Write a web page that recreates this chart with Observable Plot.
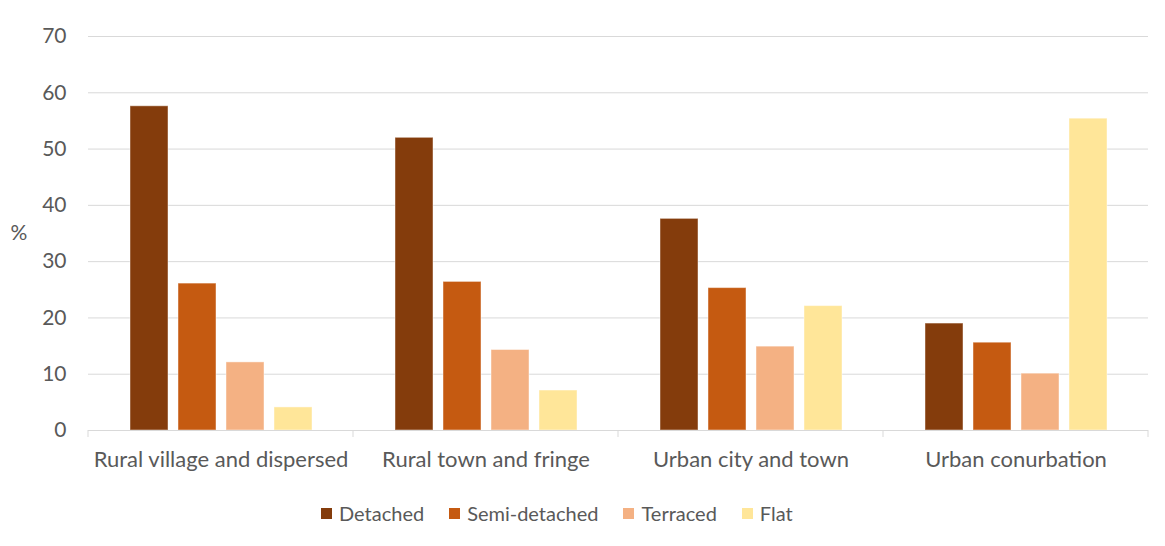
<!DOCTYPE html>
<html>
<head>
<meta charset="utf-8">
<script src="https://cdn.jsdelivr.net/npm/d3@7"></script>
<script src="https://cdn.jsdelivr.net/npm/@observablehq/plot@0.6"></script>
<style>
  body { margin: 0; background: #fff; font-family: Lato, sans-serif; }
  #wrap { width: 1165px; }
  #legend { display: flex; align-items: center; height: 30px; margin-top: 8px; padding-left: 321px; color: #595959; font-size: 20px; }
  .item { display: flex; align-items: center; margin-right: 25px; }
  .sw { width: 11px; height: 11px; margin-right: 7px; }
</style>
</head>
<body>
<div id="wrap"></div>
<script>
const categories = ["Rural village and dispersed", "Rural town and fringe", "Urban city and town", "Urban conurbation"];
const types = ["Detached", "Semi-detached", "Terraced", "Flat"];
const detached = [57.6, 52.0, 37.6, 19.0];
const semiDetached = [26.1, 26.4, 25.3, 15.6];
const terraced = [12.1, 14.3, 14.9, 10.1];
const flat = [4.1, 7.1, 22.1, 55.4];
const colors = ["#843C0C", "#C55A11", "#F4B183", "#FFE699"];
const yTicks = [0, 10, 20, 30, 40, 50, 60, 70];
const yLabel = "%";

const series = [detached, semiDetached, terraced, flat];
const data = [];
categories.forEach((c, i) => types.forEach((t, j) => data.push({category: c, type: t, value: series[j][i]})));

const chart = Plot.plot({
  width: 1165,
  height: 490,
  marginLeft: 88,
  marginRight: 17,
  marginTop: 36,
  marginBottom: 60,
  style: {fontFamily: "Lato, sans-serif", fontSize: "20px", color: "#595959", background: "#fff"},
  fx: {domain: categories, padding: 0, label: null},
  x: {domain: types, paddingInner: 0.21, paddingOuter: 0.85, axis: null},
  y: {domain: [0, 70], label: null},
  color: {domain: types, range: colors},
  marks: [
    Plot.gridY(yTicks.filter(d => d > 0), {stroke: "#d9d9d9", strokeOpacity: 1, strokeWidth: 1}),
    Plot.barY(data, {fx: "category", x: "type", y: "value", fill: "type", stroke: "#ffffff", strokeOpacity: 0.45, strokeWidth: 1}),
    Plot.ruleY([0], {stroke: "#d9d9d9", strokeWidth: 1}),
    Plot.axisY(yTicks, {tickSize: 0, tickPadding: 22, fontSize: 21, fill: "#595959", label: null}),
    Plot.axisFx({anchor: "bottom", tickSize: 0, tickPadding: 21, fontSize: 22, fill: "#595959", label: null})
  ]
});

const svg = d3.select(chart);
const fx = chart.scale("fx");
const y = chart.scale("y");
const y0 = y.apply(0);
const bounds = categories.map(c => fx.apply(c));
bounds.push(fx.apply(categories[categories.length - 1]) + fx.bandwidth);
svg.append("g").selectAll("line").data(bounds).join("line")
  .attr("x1", d => d).attr("x2", d => d)
  .attr("y1", y0).attr("y2", y0 + 7)
  .attr("stroke", "#d9d9d9");
svg.append("text")
  .attr("x", 19).attr("y", (y.apply(0) + y.apply(70)) / 2)
  .attr("text-anchor", "middle").attr("dy", "0.35em")
  .attr("fill", "#595959").style("font-size", "21px")
  .text(yLabel);

document.getElementById("wrap").appendChild(chart);

const legend = document.createElement("div");
legend.id = "legend";
types.forEach((t, i) => {
  const it = document.createElement("div");
  it.className = "item";
  const sw = document.createElement("div");
  sw.className = "sw";
  sw.style.background = colors[i];
  const lb = document.createElement("span");
  lb.textContent = t;
  it.appendChild(sw); it.appendChild(lb);
  legend.appendChild(it);
});
document.getElementById("wrap").appendChild(legend);
</script>
</body>
</html>
